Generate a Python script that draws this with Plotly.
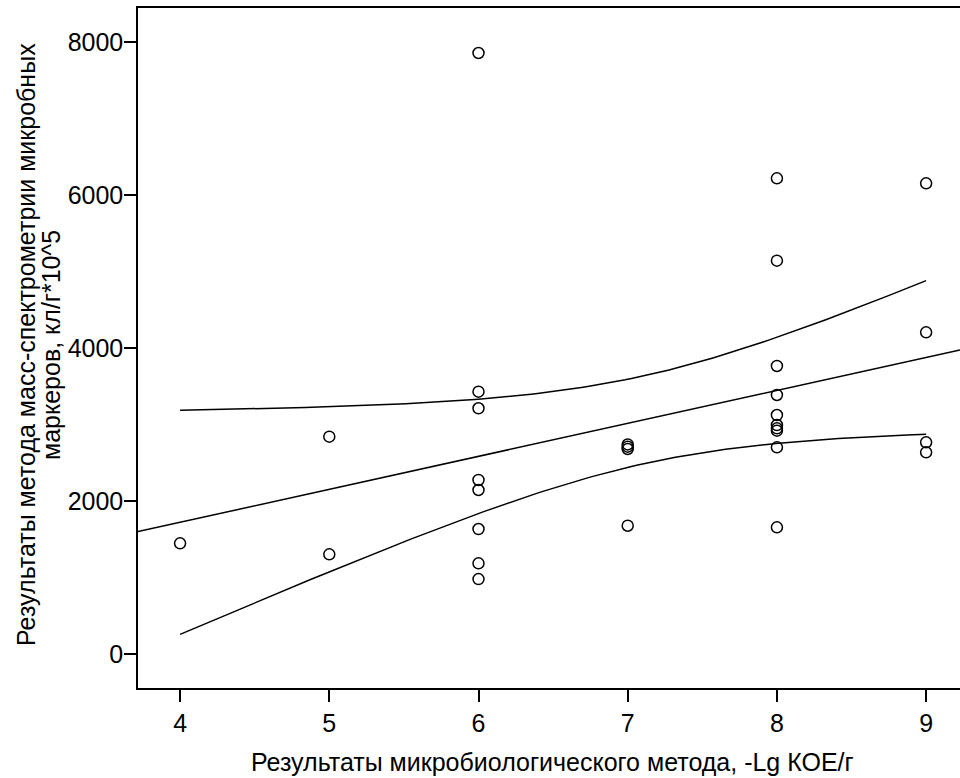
import numpy as np
import plotly.graph_objects as go

# Microbiological method result (-Lg CFU/g) for each sample
x_vals = [4,
          5, 5,
          6, 6, 6, 6, 6, 6, 6, 6,
          7, 7, 7, 7,
          8, 8, 8, 8, 8, 8, 8, 8, 8, 8,
          9, 9, 9, 9]
# Mass-spectrometry result for the same samples (cells/g * 10^5)
y_vals = [1447,
          2841, 1303,
          7856, 3429, 3212, 2275, 2144, 1634, 1185, 980,
          2740, 2710, 2680, 1677,
          6218, 5141, 3765, 3386, 3124, 2993, 2950, 2919, 2702, 1656,
          6152, 4205, 2767, 2636]

x_ticks = [4, 5, 6, 7, 8, 9]
y_ticks = [0, 2000, 4000, 6000, 8000]
x_range = [3.718, 9.227]
y_range = [-444, 8444]

x = np.array(x_vals, dtype=float)
y = np.array(y_vals, dtype=float)
n = len(x)

# Least-squares line and 95% confidence band for the mean
slope, intercept = np.polyfit(x, y, 1)
resid = y - (intercept + slope * x)
s = np.sqrt(np.sum(resid ** 2) / (n - 2))
sxx = np.sum((x - x.mean()) ** 2)
t_crit = 2.0518  # t(0.975, df=27)

line_x = np.linspace(x_range[0], x_range[1], 50)
line_y = intercept + slope * line_x

band_x = np.linspace(x.min(), x.max(), 120)
band_fit = intercept + slope * band_x
half = t_crit * s * np.sqrt(1.0 / n + (band_x - x.mean()) ** 2 / sxx)

fig = go.Figure()
fig.add_trace(go.Scatter(x=line_x, y=line_y, mode="lines",
                         line=dict(color="black", width=1.5), hoverinfo="skip"))
fig.add_trace(go.Scatter(x=band_x, y=band_fit + half, mode="lines",
                         line=dict(color="black", width=1.5), hoverinfo="skip"))
fig.add_trace(go.Scatter(x=band_x, y=band_fit - half, mode="lines",
                         line=dict(color="black", width=1.5), hoverinfo="skip"))
fig.add_trace(go.Scatter(x=x_vals, y=y_vals, mode="markers",
                         marker=dict(symbol="circle-open", size=11,
                                     color="black", line=dict(width=1.5))))

font_family = "Liberation Sans, Arial, sans-serif"
fs = 25

fig.update_layout(
    width=960, height=778,
    margin=dict(l=138, r=0, t=8, b=90),
    paper_bgcolor="white", plot_bgcolor="white",
    showlegend=False,
    font=dict(family=font_family, size=fs, color="black"),
    xaxis=dict(range=x_range, tickvals=x_ticks, ticks="outside", ticklen=12,
               tickwidth=1.5, tickcolor="black", showline=True, linecolor="black",
               linewidth=1.5, mirror=True, showgrid=False, zeroline=False,
               tickfont=dict(size=fs)),
    yaxis=dict(range=y_range, tickvals=y_ticks, ticks="outside", ticklen=12,
               tickwidth=1.5, tickcolor="black", showline=True, linecolor="black",
               linewidth=1.5, mirror=False, showgrid=False, zeroline=False,
               tickfont=dict(size=fs), ticklabelstandoff=-4),
    annotations=[
        dict(text="Результаты микробиологического метода, -Lg КОЕ/г",
             xref="paper", yref="paper", x=(552 - 138) / 822, y=(688 - 762) / 680,
             xanchor="center", yanchor="middle", showarrow=False,
             font=dict(size=fs)),
        dict(text="Результаты метода масс-спектрометрии микробных",
             xref="paper", yref="paper", x=-(138 - 26) / 822, y=(688 - 345) / 680,
             xanchor="center", yanchor="middle", textangle=-90,
             showarrow=False, font=dict(size=fs)),
        dict(text="маркеров, кл/г*10^5",
             xref="paper", yref="paper", x=-(138 - 51) / 822, y=(688 - 345) / 680,
             xanchor="center", yanchor="middle", textangle=-90,
             showarrow=False, font=dict(size=fs)),
    ],
)

fig.write_html("out.html")
